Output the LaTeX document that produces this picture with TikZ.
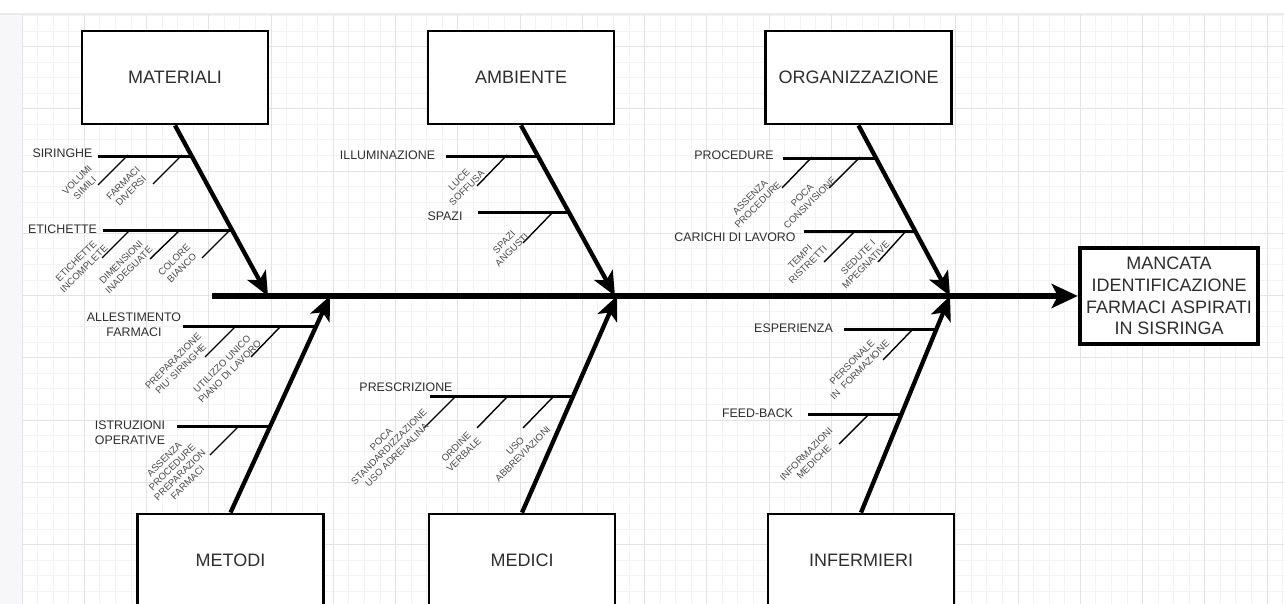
\documentclass[tikz,border=0pt]{standalone}
\usepackage{fontspec}
\setmainfont{Liberation Sans}
\usetikzlibrary{arrows.meta,calc}
\definecolor{txt}{HTML}{2E2E2E}
\definecolor{subtxt}{HTML}{4A4A4A}
\definecolor{gmin}{HTML}{F3F3F3}
\definecolor{gmaj}{HTML}{E3E3E3}
\definecolor{side}{HTML}{F7F7F9}
\definecolor{topline}{HTML}{EBEBEB}
\begin{document}
\begin{tikzpicture}[x=1pt,y=-1pt,
  catbox/.style={draw=black, line width=2.8pt, fill=white, minimum width=186pt, minimum height=93pt, font=\fontsize{18}{21.7}\selectfont, text=txt, inner sep=0pt},
  effbox/.style={draw=black, line width=4.5pt, fill=white, minimum width=178pt, minimum height=96pt, align=center, font=\fontsize{18}{21.7}\selectfont, text=txt, inner sep=0pt},
  bone/.style={line width=4.3pt, -{Stealth[length=24pt,width=21pt,inset=6pt]}},
  spine/.style={line width=5.8pt, -{Stealth[length=26pt,width=24pt,inset=6pt]}},
  branch/.style={line width=3pt},
  twig/.style={line width=1.4pt},
  blabel/.style={font=\fontsize{12.4}{15}\selectfont, text=txt, align=center, inner sep=0pt},
  slabel/.style={font=\fontsize{9.6}{11}\selectfont, text=subtxt, align=center, rotate=45, inner sep=0pt},
]
\useasboundingbox (0,0) rectangle (1284,604);
\clip (0,0) rectangle (1284,604);
% background and grid
\fill[white] (0,0) rectangle (1284,604);
\fill[side] (0,14) rectangle (22,604);
\foreach \i in {0,...,81} { \draw[gmin, line width=0.8pt] ({22+\i*15.5625},14) -- ({22+\i*15.5625},604); }
\foreach \j in {2,...,39} { \draw[gmin, line width=0.8pt] (22,{-15.75+\j*15.5625}) -- (1284,{-15.75+\j*15.5625}); }
\foreach \i in {0,...,20} { \draw[gmaj, line width=0.9pt] ({22+\i*62.25},14) -- ({22+\i*62.25},604); }
\foreach \j in {1,...,9} { \draw[gmaj, line width=0.9pt] (22,{-15.75+\j*62.25}) -- (1284,{-15.75+\j*62.25}); }
\draw[topline, line width=1.5pt] (0,14) -- (1284,14);

% category boxes and effect
\node[catbox] (mat) at (175,77.5) {MATERIALI};
\node[catbox] (amb) at (521,77.5) {AMBIENTE};
\node[catbox] (org) at (858.5,77.5) {ORGANIZZAZIONE};
\node[catbox] (met) at (230.5,560.5) {METODI};
\node[catbox] (med) at (522,560.5) {MEDICI};
\node[catbox] (inf) at (861,560.5) {INFERMIERI};
\node[effbox] (eff) at (1169,296) {MANCATA\\IDENTIFICAZIONE\\FARMACI ASPIRATI\\IN SISRINGA};

% spine
\coordinate (tail) at (212,296);
\draw[spine] (tail) -- (eff.west);

% bone tips
\coordinate (tM) at (268,296);
\coordinate (tA) at (615,296);
\coordinate (tO) at (950,296);
\coordinate (bM) at (330,296);
\coordinate (bD) at (617,296);
\coordinate (bI) at (950,296);

\draw[bone] (mat.south) -- (tM);
\draw[bone] (amb.south) -- (tA);
\draw[bone] (org.south) -- (tO);
\draw[bone] (met.north) -- (bM);
\draw[bone] (med.north) -- (bD);
\draw[bone] (inf.north) -- (bI);

% junctions
\coordinate (jSir) at ($(mat.south)!0.180!(tM)$);
\coordinate (jEti) at ($(mat.south)!0.616!(tM)$);
\coordinate (jIll) at ($(amb.south)!0.180!(tA)$);
\coordinate (jSpa) at ($(amb.south)!0.512!(tA)$);
\coordinate (jPro) at ($(org.south)!0.192!(tO)$);
\coordinate (jCar) at ($(org.south)!0.622!(tO)$);
\coordinate (jAll) at ($(met.north)!0.858!(bM)$);
\coordinate (jIst) at ($(met.north)!0.399!(bM)$);
\coordinate (jPre) at ($(med.north)!0.537!(bD)$);
\coordinate (jEsp) at ($(inf.north)!0.844!(bI)$);
\coordinate (jFee) at ($(inf.north)!0.454!(bI)$);

% branch labels
\node[blabel] (lSir) at (62.5,153) {SIRINGHE};
\node[blabel] (lEti) at (62.5,229) {ETICHETTE};
\node[blabel] (lIll) at (387.5,155) {ILLUMINAZIONE};
\node[blabel] (lSpa) at (445,216) {SPAZI};
\node[blabel] (lPro) at (734,155) {PROCEDURE};
\node[blabel] (lCar) at (735,237) {CARICHI DI LAVORO};
\node[blabel] (lAll) at (134,325) {ALLESTIMENTO\\FARMACI};
\node[blabel] (lIst) at (130,433) {ISTRUZIONI\\OPERATIVE};
\node[blabel] (lPre) at (406,387) {PRESCRIZIONE};
\node[blabel] (lEsp) at (793.5,328) {ESPERIENZA};
\node[blabel] (lFee) at (757.5,413) {FEED-BACK};

% branches
\draw[branch] (jSir) -- ([xshift=5pt]lSir.east |- jSir);
\draw[branch] (jEti) -- ([xshift=6pt]lEti.east |- jEti);
\draw[branch] (jIll) -- ([xshift=11pt]lIll.east |- jIll);
\draw[branch] (jSpa) -- ([xshift=15pt]lSpa.east |- jSpa);
\draw[branch] (jPro) -- ([xshift=9pt]lPro.east |- jPro);
\draw[branch] (jCar) -- ([xshift=8pt]lCar.east |- jCar);
\draw[branch] (jAll) -- ([xshift=2pt]lAll.east |- jAll);
\draw[branch] (jIst) -- ([xshift=12pt]lIst.east |- jIst);
\draw[branch] (jPre) -- ([xshift=-23pt]lPre.east |- jPre);
\draw[branch] (jEsp) -- ([xshift=11pt]lEsp.east |- jEsp);
\draw[branch] (jFee) -- ([xshift=15pt]lFee.east |- jFee);

% twigs
\draw[twig] (128,155) -- (98,185);
\draw[twig] (182,155) -- (153,184);
\draw[twig] (130,230) -- (102,258);
\draw[twig] (180,230) -- (150,259);
\draw[twig] (230,230) -- (202,258);
\draw[twig] (507,155) -- (477,186);
\draw[twig] (553,212) -- (523,243);
\draw[twig] (812,157) -- (782,188);
\draw[twig] (860,157) -- (829,188);
\draw[twig] (855,231) -- (824,262);
\draw[twig] (906,231) -- (878,262);
\draw[twig] (235,327) -- (205,357);
\draw[twig] (280,327) -- (251,357);
\draw[twig] (238,427) -- (210,455);
\draw[twig] (455,397) -- (424,428);
\draw[twig] (507,397) -- (477,428);
\draw[twig] (553,397) -- (523,428);
\draw[twig] (912,330) -- (883,360);
\draw[twig] (868,415) -- (839,444);

% sub-cause labels
\node[slabel] (s1) at (81,184) {VOLUMI\\SIMILI};
\node[slabel] (s2) at (127,187) {FARMACI\\DIVERSI};
\node[slabel] (s3) at (80,265) {ETICHETTE\\INCOMPLETE};
\node[slabel] (s4) at (125,266) {DIMENSIONI\\INADEGUATE};
\node[slabel] (s5) at (178,264) {COLORE\\BIANCO};
\node[slabel] (s6) at (463,184) {LUCE\\SOFFUSA};
\node[slabel] (s7) at (508,246) {SPAZI\\ANGUSTI};
\node[slabel] (s8) at (754,201) {ASSENZA\\PROCEDURE};
\node[slabel] (s9) at (806,199) {POCA\\CONSIVISIONE};
\node[slabel] (s10) at (804,261) {TEMPI\\RISTRETTI};
\node[slabel] (s11) at (862,261) {SEDUTE I\\MPEGNATIVE};
\node[slabel] (s12) at (177,365) {PREPARAZIONE\\PIU' SIRINGHE};
\node[slabel] (s13) at (226,368) {UTILIZZO UNICO\\PIANO DI LAVORO};
\node[slabel] (s14) at (176,471) {ASSENZA\\PROCEDURE\\PREPARAZION\\FARMACI};
\node[slabel] (s15) at (389,447) {POCA\\STANDARDIZZAZIONE\\USO ADRENALINA};
\node[slabel] (s16) at (460,451) {ORDINE\\VERBALE};
\node[slabel] (s17) at (519,450) {USO\\ABBREVIAZIONI};
\node[slabel] (s18) at (856,366) {PERSONALE\\IN~~FORMAZIONE};
\node[slabel] (s19) at (810,458) {INFORMAZIONI\\MEDICHE};
\end{tikzpicture}
\end{document}
